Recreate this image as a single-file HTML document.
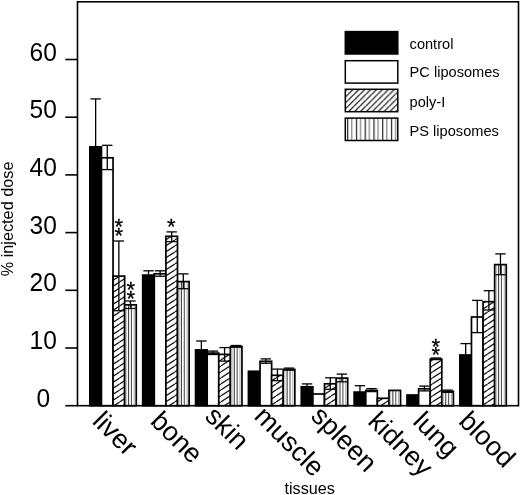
<!DOCTYPE html>
<html><head><meta charset="utf-8"><title>chart</title>
<style>
html,body{margin:0;padding:0;background:#fff;}
svg{display:block;will-change:transform;}
text{font-family:"Liberation Sans",sans-serif;fill:#000;}
</style></head><body>
<svg width="520" height="495" viewBox="0 0 520 495">
<defs>
<pattern id="hatch" patternUnits="userSpaceOnUse" width="9.2" height="6.0" patternTransform="translate(0,0)">
<rect width="9.2" height="6.0" fill="#fff"/>
<path d="M-9.2,6.0 L0,0 M0,6.0 L9.2,0 M9.2,6.0 L18.4,0" stroke="#000" stroke-width="1.15"/>
</pattern>
<pattern id="lhatch" patternUnits="userSpaceOnUse" width="5.9" height="5.9">
<rect width="5.9" height="5.9" fill="#fff"/>
<path d="M-5.9,5.9 L0,0 M0,5.9 L5.9,0 M5.9,5.9 L11.8,0" stroke="#000" stroke-width="1.2"/>
</pattern>
<pattern id="vstripe" patternUnits="userSpaceOnUse" width="2.6" height="10" x="0.4">
<rect width="2.6" height="10" fill="#fff"/>
<rect x="0" width="1.0" height="10" fill="#333"/>
</pattern>
<pattern id="lvstripe" patternUnits="userSpaceOnUse" width="8.76" height="10" x="347.1">
<rect width="8.76" height="10" fill="#fff"/>
<rect x="0" width="1.2" height="10" fill="#222"/>
<rect x="4.2" width="1.0" height="10" fill="#666"/>
</pattern>
</defs>

<rect x="77.5" y="1.8" width="441.0" height="403.9" fill="none" stroke="#000" stroke-width="1.6"/>
<line x1="65.3" y1="405.70" x2="77.5" y2="405.70" stroke="#000" stroke-width="1.6"/>
<text transform="translate(43.2 406.70) scale(0.97 1)" font-size="25.3" text-anchor="middle">0</text>
<line x1="65.3" y1="348.00" x2="77.5" y2="348.00" stroke="#000" stroke-width="1.6"/>
<text transform="translate(43.2 349.00) scale(0.97 1)" font-size="25.3" text-anchor="middle">10</text>
<line x1="65.3" y1="290.30" x2="77.5" y2="290.30" stroke="#000" stroke-width="1.6"/>
<text transform="translate(43.2 291.30) scale(0.97 1)" font-size="25.3" text-anchor="middle">20</text>
<line x1="65.3" y1="232.60" x2="77.5" y2="232.60" stroke="#000" stroke-width="1.6"/>
<text transform="translate(43.2 233.60) scale(0.97 1)" font-size="25.3" text-anchor="middle">30</text>
<line x1="65.3" y1="174.90" x2="77.5" y2="174.90" stroke="#000" stroke-width="1.6"/>
<text transform="translate(43.2 175.90) scale(0.97 1)" font-size="25.3" text-anchor="middle">40</text>
<line x1="65.3" y1="117.20" x2="77.5" y2="117.20" stroke="#000" stroke-width="1.6"/>
<text transform="translate(43.2 118.20) scale(0.97 1)" font-size="25.3" text-anchor="middle">50</text>
<line x1="65.3" y1="59.50" x2="77.5" y2="59.50" stroke="#000" stroke-width="1.6"/>
<text transform="translate(43.2 60.50) scale(0.97 1)" font-size="25.3" text-anchor="middle">60</text>
<rect x="89.85" y="146.80" width="11.60" height="258.90" fill="#000" stroke="#000" stroke-width="1.7"/>
<rect x="101.45" y="157.80" width="11.60" height="247.90" fill="#fff" stroke="#000" stroke-width="1.7"/>
<rect x="113.05" y="276.10" width="11.60" height="129.60" fill="url(#hatch)" stroke="#000" stroke-width="1.7"/>
<rect x="124.65" y="304.80" width="11.60" height="100.90" fill="#fff"/>
<rect x="125.85" y="304.80" width="1.0" height="100.90" fill="#bbb"/>
<rect x="128.00" y="304.80" width="1.1" height="100.90" fill="#444"/>
<rect x="130.90" y="304.80" width="1.1" height="100.90" fill="#555"/>
<rect x="133.75" y="304.80" width="1.0" height="100.90" fill="#aaa"/>
<rect x="124.65" y="304.80" width="11.60" height="100.90" fill="none" stroke="#000" stroke-width="1.7"/>
<line x1="95.65" y1="98.90" x2="95.65" y2="194.10" stroke="#000" stroke-width="1.3"/>
<line x1="90.45" y1="98.90" x2="100.85" y2="98.90" stroke="#000" stroke-width="1.3"/>
<line x1="90.45" y1="194.10" x2="100.85" y2="194.10" stroke="#000" stroke-width="1.3"/>
<line x1="107.25" y1="145.30" x2="107.25" y2="169.60" stroke="#000" stroke-width="1.3"/>
<line x1="102.05" y1="145.30" x2="112.45" y2="145.30" stroke="#000" stroke-width="1.3"/>
<line x1="102.05" y1="169.60" x2="112.45" y2="169.60" stroke="#000" stroke-width="1.3"/>
<line x1="118.85" y1="241.00" x2="118.85" y2="310.70" stroke="#000" stroke-width="1.3"/>
<line x1="113.65" y1="241.00" x2="124.05" y2="241.00" stroke="#000" stroke-width="1.3"/>
<line x1="113.65" y1="310.70" x2="124.05" y2="310.70" stroke="#000" stroke-width="1.3"/>
<line x1="130.45" y1="301.00" x2="130.45" y2="308.50" stroke="#000" stroke-width="1.3"/>
<line x1="125.25" y1="301.00" x2="135.65" y2="301.00" stroke="#000" stroke-width="1.3"/>
<line x1="125.25" y1="308.50" x2="135.65" y2="308.50" stroke="#000" stroke-width="1.3"/>
<rect x="142.71" y="275.10" width="11.60" height="130.60" fill="#000" stroke="#000" stroke-width="1.7"/>
<rect x="154.31" y="273.80" width="11.60" height="131.90" fill="#fff" stroke="#000" stroke-width="1.7"/>
<rect x="165.91" y="236.30" width="11.60" height="169.40" fill="url(#hatch)" stroke="#000" stroke-width="1.7"/>
<rect x="177.51" y="281.60" width="11.60" height="124.10" fill="#fff"/>
<rect x="178.71" y="281.60" width="1.0" height="124.10" fill="#bbb"/>
<rect x="180.86" y="281.60" width="1.1" height="124.10" fill="#444"/>
<rect x="183.76" y="281.60" width="1.1" height="124.10" fill="#555"/>
<rect x="186.61" y="281.60" width="1.0" height="124.10" fill="#aaa"/>
<rect x="177.51" y="281.60" width="11.60" height="124.10" fill="none" stroke="#000" stroke-width="1.7"/>
<line x1="148.51" y1="270.80" x2="148.51" y2="278.80" stroke="#000" stroke-width="1.3"/>
<line x1="143.31" y1="270.80" x2="153.71" y2="270.80" stroke="#000" stroke-width="1.3"/>
<line x1="143.31" y1="278.80" x2="153.71" y2="278.80" stroke="#000" stroke-width="1.3"/>
<line x1="160.11" y1="270.80" x2="160.11" y2="276.20" stroke="#000" stroke-width="1.3"/>
<line x1="154.91" y1="270.80" x2="165.31" y2="270.80" stroke="#000" stroke-width="1.3"/>
<line x1="154.91" y1="276.20" x2="165.31" y2="276.20" stroke="#000" stroke-width="1.3"/>
<line x1="171.71" y1="231.90" x2="171.71" y2="241.60" stroke="#000" stroke-width="1.3"/>
<line x1="166.51" y1="231.90" x2="176.91" y2="231.90" stroke="#000" stroke-width="1.3"/>
<line x1="166.51" y1="241.60" x2="176.91" y2="241.60" stroke="#000" stroke-width="1.3"/>
<line x1="183.31" y1="273.90" x2="183.31" y2="288.70" stroke="#000" stroke-width="1.3"/>
<line x1="178.11" y1="273.90" x2="188.51" y2="273.90" stroke="#000" stroke-width="1.3"/>
<line x1="178.11" y1="288.70" x2="188.51" y2="288.70" stroke="#000" stroke-width="1.3"/>
<rect x="195.57" y="349.90" width="11.60" height="55.80" fill="#000" stroke="#000" stroke-width="1.7"/>
<rect x="207.17" y="353.10" width="11.60" height="52.60" fill="#fff" stroke="#000" stroke-width="1.7"/>
<rect x="218.77" y="354.40" width="11.60" height="51.30" fill="url(#hatch)" stroke="#000" stroke-width="1.7"/>
<rect x="230.37" y="346.60" width="11.60" height="59.10" fill="#fff"/>
<rect x="231.57" y="346.60" width="1.0" height="59.10" fill="#bbb"/>
<rect x="233.72" y="346.60" width="1.1" height="59.10" fill="#444"/>
<rect x="236.62" y="346.60" width="1.1" height="59.10" fill="#555"/>
<rect x="239.47" y="346.60" width="1.0" height="59.10" fill="#aaa"/>
<rect x="230.37" y="346.60" width="11.60" height="59.10" fill="none" stroke="#000" stroke-width="1.7"/>
<line x1="201.37" y1="341.00" x2="201.37" y2="358.20" stroke="#000" stroke-width="1.3"/>
<line x1="196.17" y1="341.00" x2="206.57" y2="341.00" stroke="#000" stroke-width="1.3"/>
<line x1="196.17" y1="358.20" x2="206.57" y2="358.20" stroke="#000" stroke-width="1.3"/>
<line x1="212.97" y1="351.10" x2="212.97" y2="354.50" stroke="#000" stroke-width="1.3"/>
<line x1="207.77" y1="351.10" x2="218.17" y2="351.10" stroke="#000" stroke-width="1.3"/>
<line x1="207.77" y1="354.50" x2="218.17" y2="354.50" stroke="#000" stroke-width="1.3"/>
<line x1="224.57" y1="347.60" x2="224.57" y2="361.10" stroke="#000" stroke-width="1.3"/>
<line x1="219.37" y1="347.60" x2="229.77" y2="347.60" stroke="#000" stroke-width="1.3"/>
<line x1="219.37" y1="361.10" x2="229.77" y2="361.10" stroke="#000" stroke-width="1.3"/>
<line x1="236.17" y1="345.50" x2="236.17" y2="347.10" stroke="#000" stroke-width="1.3"/>
<line x1="230.97" y1="345.50" x2="241.37" y2="345.50" stroke="#000" stroke-width="1.3"/>
<line x1="230.97" y1="347.10" x2="241.37" y2="347.10" stroke="#000" stroke-width="1.3"/>
<rect x="248.43" y="371.30" width="11.60" height="34.40" fill="#000" stroke="#000" stroke-width="1.7"/>
<rect x="260.03" y="361.30" width="11.60" height="44.40" fill="#fff" stroke="#000" stroke-width="1.7"/>
<rect x="271.63" y="375.30" width="11.60" height="30.40" fill="url(#hatch)" stroke="#000" stroke-width="1.7"/>
<rect x="283.23" y="369.40" width="11.60" height="36.30" fill="#fff"/>
<rect x="284.43" y="369.40" width="1.0" height="36.30" fill="#bbb"/>
<rect x="286.58" y="369.40" width="1.1" height="36.30" fill="#444"/>
<rect x="289.48" y="369.40" width="1.1" height="36.30" fill="#555"/>
<rect x="292.33" y="369.40" width="1.0" height="36.30" fill="#aaa"/>
<rect x="283.23" y="369.40" width="11.60" height="36.30" fill="none" stroke="#000" stroke-width="1.7"/>
<line x1="265.83" y1="358.90" x2="265.83" y2="363.20" stroke="#000" stroke-width="1.3"/>
<line x1="260.63" y1="358.90" x2="271.03" y2="358.90" stroke="#000" stroke-width="1.3"/>
<line x1="260.63" y1="363.20" x2="271.03" y2="363.20" stroke="#000" stroke-width="1.3"/>
<line x1="277.43" y1="369.10" x2="277.43" y2="380.70" stroke="#000" stroke-width="1.3"/>
<line x1="272.23" y1="369.10" x2="282.63" y2="369.10" stroke="#000" stroke-width="1.3"/>
<line x1="272.23" y1="380.70" x2="282.63" y2="380.70" stroke="#000" stroke-width="1.3"/>
<line x1="289.03" y1="368.10" x2="289.03" y2="370.10" stroke="#000" stroke-width="1.3"/>
<line x1="283.83" y1="368.10" x2="294.23" y2="368.10" stroke="#000" stroke-width="1.3"/>
<line x1="283.83" y1="370.10" x2="294.23" y2="370.10" stroke="#000" stroke-width="1.3"/>
<rect x="301.29" y="386.80" width="11.60" height="18.90" fill="#000" stroke="#000" stroke-width="1.7"/>
<rect x="312.89" y="394.00" width="11.60" height="11.70" fill="#fff" stroke="#000" stroke-width="1.7"/>
<rect x="324.49" y="383.80" width="11.60" height="21.90" fill="url(#hatch)" stroke="#000" stroke-width="1.7"/>
<rect x="336.09" y="378.10" width="11.60" height="27.60" fill="#fff"/>
<rect x="337.29" y="378.10" width="1.0" height="27.60" fill="#bbb"/>
<rect x="339.44" y="378.10" width="1.1" height="27.60" fill="#444"/>
<rect x="342.34" y="378.10" width="1.1" height="27.60" fill="#555"/>
<rect x="345.19" y="378.10" width="1.0" height="27.60" fill="#aaa"/>
<rect x="336.09" y="378.10" width="11.60" height="27.60" fill="none" stroke="#000" stroke-width="1.7"/>
<line x1="307.09" y1="383.90" x2="307.09" y2="389.10" stroke="#000" stroke-width="1.3"/>
<line x1="301.89" y1="383.90" x2="312.29" y2="383.90" stroke="#000" stroke-width="1.3"/>
<line x1="301.89" y1="389.10" x2="312.29" y2="389.10" stroke="#000" stroke-width="1.3"/>
<line x1="330.29" y1="377.80" x2="330.29" y2="389.30" stroke="#000" stroke-width="1.3"/>
<line x1="325.09" y1="377.80" x2="335.49" y2="377.80" stroke="#000" stroke-width="1.3"/>
<line x1="325.09" y1="389.30" x2="335.49" y2="389.30" stroke="#000" stroke-width="1.3"/>
<line x1="341.89" y1="374.10" x2="341.89" y2="381.80" stroke="#000" stroke-width="1.3"/>
<line x1="336.69" y1="374.10" x2="347.09" y2="374.10" stroke="#000" stroke-width="1.3"/>
<line x1="336.69" y1="381.80" x2="347.09" y2="381.80" stroke="#000" stroke-width="1.3"/>
<rect x="354.15" y="392.10" width="11.60" height="13.60" fill="#000" stroke="#000" stroke-width="1.7"/>
<rect x="365.75" y="390.40" width="11.60" height="15.30" fill="#fff" stroke="#000" stroke-width="1.7"/>
<rect x="377.35" y="398.30" width="11.60" height="7.40" fill="url(#hatch)" stroke="#000" stroke-width="1.7"/>
<rect x="388.95" y="390.40" width="11.60" height="15.30" fill="#fff"/>
<rect x="390.15" y="390.40" width="1.0" height="15.30" fill="#bbb"/>
<rect x="392.30" y="390.40" width="1.1" height="15.30" fill="#444"/>
<rect x="395.20" y="390.40" width="1.1" height="15.30" fill="#555"/>
<rect x="398.05" y="390.40" width="1.0" height="15.30" fill="#aaa"/>
<rect x="388.95" y="390.40" width="11.60" height="15.30" fill="none" stroke="#000" stroke-width="1.7"/>
<line x1="359.95" y1="385.70" x2="359.95" y2="397.90" stroke="#000" stroke-width="1.3"/>
<line x1="354.75" y1="385.70" x2="365.15" y2="385.70" stroke="#000" stroke-width="1.3"/>
<line x1="354.75" y1="397.90" x2="365.15" y2="397.90" stroke="#000" stroke-width="1.3"/>
<line x1="371.55" y1="388.60" x2="371.55" y2="391.60" stroke="#000" stroke-width="1.3"/>
<line x1="366.35" y1="388.60" x2="376.75" y2="388.60" stroke="#000" stroke-width="1.3"/>
<line x1="366.35" y1="391.60" x2="376.75" y2="391.60" stroke="#000" stroke-width="1.3"/>
<rect x="407.01" y="395.00" width="11.60" height="10.70" fill="#000" stroke="#000" stroke-width="1.7"/>
<rect x="418.61" y="388.80" width="11.60" height="16.90" fill="#fff" stroke="#000" stroke-width="1.7"/>
<rect x="430.21" y="359.10" width="11.60" height="46.60" fill="url(#hatch)" stroke="#000" stroke-width="1.7"/>
<rect x="441.81" y="391.40" width="11.60" height="14.30" fill="#fff"/>
<rect x="443.01" y="391.40" width="1.0" height="14.30" fill="#bbb"/>
<rect x="445.16" y="391.40" width="1.1" height="14.30" fill="#444"/>
<rect x="448.06" y="391.40" width="1.1" height="14.30" fill="#555"/>
<rect x="450.91" y="391.40" width="1.0" height="14.30" fill="#aaa"/>
<rect x="441.81" y="391.40" width="11.60" height="14.30" fill="none" stroke="#000" stroke-width="1.7"/>
<line x1="424.41" y1="386.10" x2="424.41" y2="390.90" stroke="#000" stroke-width="1.3"/>
<line x1="419.21" y1="386.10" x2="429.61" y2="386.10" stroke="#000" stroke-width="1.3"/>
<line x1="419.21" y1="390.90" x2="429.61" y2="390.90" stroke="#000" stroke-width="1.3"/>
<line x1="436.01" y1="358.00" x2="436.01" y2="359.60" stroke="#000" stroke-width="1.3"/>
<line x1="430.81" y1="358.00" x2="441.21" y2="358.00" stroke="#000" stroke-width="1.3"/>
<line x1="430.81" y1="359.60" x2="441.21" y2="359.60" stroke="#000" stroke-width="1.3"/>
<line x1="447.61" y1="390.10" x2="447.61" y2="392.30" stroke="#000" stroke-width="1.3"/>
<line x1="442.41" y1="390.10" x2="452.81" y2="390.10" stroke="#000" stroke-width="1.3"/>
<line x1="442.41" y1="392.30" x2="452.81" y2="392.30" stroke="#000" stroke-width="1.3"/>
<rect x="459.87" y="355.00" width="11.60" height="50.70" fill="#000" stroke="#000" stroke-width="1.7"/>
<rect x="471.47" y="317.00" width="11.60" height="88.70" fill="#fff" stroke="#000" stroke-width="1.7"/>
<rect x="483.07" y="301.70" width="11.60" height="104.00" fill="url(#hatch)" stroke="#000" stroke-width="1.7"/>
<rect x="494.67" y="264.60" width="11.60" height="141.10" fill="#fff"/>
<rect x="495.87" y="264.60" width="1.0" height="141.10" fill="#bbb"/>
<rect x="498.02" y="264.60" width="1.1" height="141.10" fill="#444"/>
<rect x="500.92" y="264.60" width="1.1" height="141.10" fill="#555"/>
<rect x="503.77" y="264.60" width="1.0" height="141.10" fill="#aaa"/>
<rect x="494.67" y="264.60" width="11.60" height="141.10" fill="none" stroke="#000" stroke-width="1.7"/>
<line x1="465.67" y1="343.60" x2="465.67" y2="365.80" stroke="#000" stroke-width="1.3"/>
<line x1="460.47" y1="343.60" x2="470.87" y2="343.60" stroke="#000" stroke-width="1.3"/>
<line x1="460.47" y1="365.80" x2="470.87" y2="365.80" stroke="#000" stroke-width="1.3"/>
<line x1="477.27" y1="300.40" x2="477.27" y2="332.60" stroke="#000" stroke-width="1.3"/>
<line x1="472.07" y1="300.40" x2="482.47" y2="300.40" stroke="#000" stroke-width="1.3"/>
<line x1="472.07" y1="332.60" x2="482.47" y2="332.60" stroke="#000" stroke-width="1.3"/>
<line x1="488.87" y1="290.70" x2="488.87" y2="310.00" stroke="#000" stroke-width="1.3"/>
<line x1="483.67" y1="290.70" x2="494.07" y2="290.70" stroke="#000" stroke-width="1.3"/>
<line x1="483.67" y1="310.00" x2="494.07" y2="310.00" stroke="#000" stroke-width="1.3"/>
<line x1="500.47" y1="253.90" x2="500.47" y2="274.70" stroke="#000" stroke-width="1.3"/>
<line x1="495.27" y1="253.90" x2="505.67" y2="253.90" stroke="#000" stroke-width="1.3"/>
<line x1="495.27" y1="274.70" x2="505.67" y2="274.70" stroke="#000" stroke-width="1.3"/>
<text x="118.90" y="234.30" font-size="22" text-anchor="middle" stroke="#000" stroke-width="0.3">*</text>
<text x="118.90" y="242.60" font-size="22" text-anchor="middle" stroke="#000" stroke-width="0.3">*</text>
<text x="130.80" y="297.30" font-size="22" text-anchor="middle" stroke="#000" stroke-width="0.3">*</text>
<text x="130.80" y="305.80" font-size="22" text-anchor="middle" stroke="#000" stroke-width="0.3">*</text>
<text x="171.30" y="233.90" font-size="22" text-anchor="middle" stroke="#000" stroke-width="0.3">*</text>
<text x="435.90" y="354.00" font-size="22" text-anchor="middle" stroke="#000" stroke-width="0.3">*</text>
<text x="435.90" y="362.40" font-size="22" text-anchor="middle" stroke="#000" stroke-width="0.3">*</text>
<rect x="345.3" y="31.60" width="52.5" height="22.4" fill="#000" stroke="#000" stroke-width="1.5"/>
<text x="409.6" y="48.60" font-size="14.6">control</text>
<rect x="345.3" y="60.70" width="52.5" height="22.4" fill="#fff" stroke="#000" stroke-width="1.5"/>
<text x="409.6" y="77.40" font-size="14.6">PC liposomes</text>
<rect x="345.3" y="89.30" width="52.5" height="22.4" fill="url(#lhatch)" stroke="#000" stroke-width="1.5"/>
<text x="409.6" y="107.20" font-size="14.6">poly-I</text>
<rect x="345.3" y="118.10" width="52.5" height="22.4" fill="url(#lvstripe)" stroke="#000" stroke-width="1.5"/>
<text x="409.6" y="136.20" font-size="14.6">PS liposomes</text>
<text x="91.30" y="422.40" font-size="27" transform="rotate(45 91.30 422.40)">liver</text>
<text x="149.20" y="422.50" font-size="27" transform="rotate(45 149.20 422.50)">bone</text>
<text x="203.80" y="417.40" font-size="27" transform="rotate(45 203.80 417.40)">skin</text>
<text x="252.90" y="417.60" font-size="27" transform="rotate(45 252.90 417.60)">muscle</text>
<text x="309.70" y="417.30" font-size="27" transform="rotate(45 309.70 417.30)">spleen</text>
<text x="366.70" y="422.80" font-size="27" transform="rotate(45 366.70 422.80)">kidney</text>
<text x="411.70" y="422.80" font-size="27" transform="rotate(45 411.70 422.80)">lung</text>
<text x="457.50" y="422.50" font-size="27" transform="rotate(45 457.50 422.50)">blood</text>
<text x="13.3" y="276.3" font-size="16.25" transform="rotate(-90 13.3 276.3)">% injected dose</text>
<text x="284.5" y="493.6" font-size="16.2">tissues</text>
</svg>
</body></html>
